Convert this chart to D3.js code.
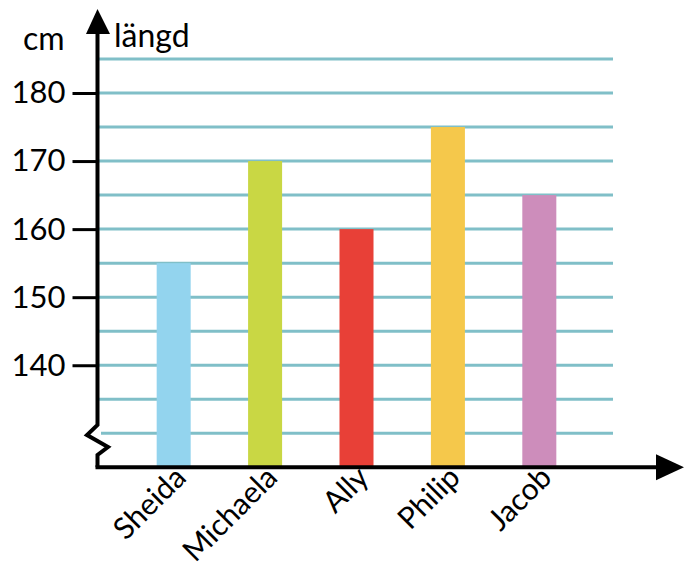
<!DOCTYPE html>
<html><head><meta charset="utf-8">
<script src="https://cdn.jsdelivr.net/npm/d3@7"></script>
<style>body{margin:0;background:#fff}svg{display:block}text{font-family:Lato,"Open Sans",sans-serif;fill:#000}</style>
</head><body>
<svg id="c" width="688" height="571"></svg>
<script>
const names = ["Sheida","Michaela","Ally","Philip","Jacob"];
const heights = [155,170,160,175,165];
const colors = ["#93d4ee","#c9d744","#e84037","#f5c84b","#cd8dbb"];
const yTicks = [140,150,160,170,180];
const gridValues = [130,135,140,145,150,155,160,165,170,175,180,185];
const yUnit = "cm", yTitle = "längd";

const svg = d3.select("#c");
const y = d3.scaleLinear().domain([130,180]).range([433.3,93]);
const x = d3.scaleBand().domain(names).range([99,614]).paddingInner(0.628).paddingOuter(0.631);
const axisX = 97.5, baseY = y(125);

// gridlines
svg.append("g").selectAll("line").data(gridValues).join("line")
  .attr("x1", d => d===130 ? 101 : axisX).attr("x2", 613)
  .attr("y1", d => y(d)).attr("y2", d => y(d))
  .attr("stroke", "#80bfc8").attr("stroke-width", 3);

// bars
svg.append("g").selectAll("rect").data(names).join("rect")
  .attr("x", d => x(d)).attr("width", x.bandwidth())
  .attr("y", (d,i) => y(heights[i])).attr("height", (d,i) => baseY - y(heights[i]))
  .attr("fill", (d,i) => colors[i]);

// y axis with ticks
const yAxis = d3.axisLeft(y).tickValues(yTicks).tickSize(25).tickPadding(7).tickFormat(d3.format("d"));
const ga = svg.append("g").attr("transform", `translate(${axisX},0)`).call(yAxis);
ga.select(".domain").remove();
ga.selectAll(".tick line").attr("stroke","#000").attr("stroke-width",3);
ga.selectAll(".tick text").attr("font-size",31).attr("font-family","Lato").attr("fill","#000");

// vertical axis line with zigzag
const zz = d3.path();
zz.moveTo(axisX, 30); zz.lineTo(axisX, 425); zz.lineTo(87, 435); zz.lineTo(108, 447); zz.lineTo(axisX, 455); zz.lineTo(axisX, baseY);
svg.append("path").attr("d", zz.toString()).attr("fill","none").attr("stroke","#000").attr("stroke-width",4).attr("stroke-linejoin","miter");
// x axis line
svg.append("line").attr("x1", axisX-2).attr("x2", 660).attr("y1", baseY).attr("y2", baseY).attr("stroke","#000").attr("stroke-width",4);
// arrows
svg.append("path").attr("d", d3.line()([[axisX,9],[110,34],[86,34]]) + "Z").attr("fill","#000");
svg.append("path").attr("d", d3.line()([[684,baseY],[656,baseY-13],[656,baseY+13]]) + "Z").attr("fill","#000");

// titles
svg.append("text").attr("x", 23).attr("y", 50).attr("font-size", 32).text(yUnit);
svg.append("text").attr("x", 114).attr("y", 47).attr("font-size", 32).text(yTitle);

// category labels
svg.append("g").selectAll("text").data(names).join("text")
  .attr("transform", d => `translate(${x(d)+x.bandwidth()/2+14},${baseY+12}) rotate(-45)`)
  .attr("text-anchor","end").attr("font-size",30).text(d => d);
</script>
</body></html>
